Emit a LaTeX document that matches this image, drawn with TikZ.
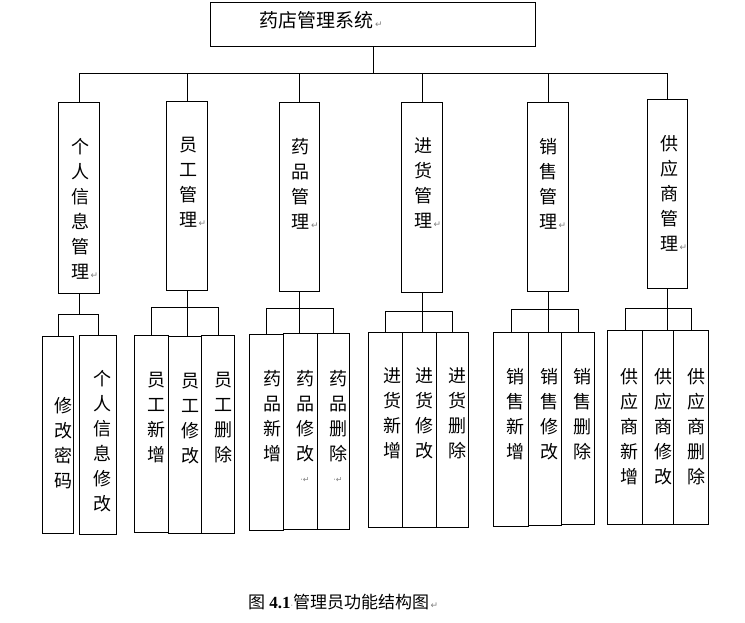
\documentclass[tikz,border=0pt]{standalone}
\usepackage{fontspec}
\setmainfont{Liberation Serif}
\newfontfamily\cjk{Noto Sans CJK SC}
\newfontfamily\dejavu{DejaVu Sans}
\newcommand\retm{\rlap{\textcolor{gray}{\dejavu\fontsize{9}{9}\selectfont\,↵}}}
\newcommand\mybox[5]{\node[boxst, minimum width={(#4-#2)*1pt}, minimum height={(#5-#3)*1pt}, anchor=north west] (#1) at (#2,#3) {};}
\begin{document}
\begin{tikzpicture}[x=1pt,y=-1pt,
  boxst/.style={draw, line width=1pt, inner sep=0pt, rectangle},
  vt/.style={font=\cjk\fontsize{18}{25}\selectfont, align=center, inner sep=0pt, anchor=north},
  conn/.style={line width=1pt},
  pmark/.style={font=\dejavu\fontsize{8}{8}\selectfont, text=gray, inner sep=0pt}]
\useasboundingbox (0,0) rectangle (745,622);
% root
\mybox{root}{210}{2}{535}{46}
\node[font=\cjk\fontsize{19}{22}\selectfont, inner sep=0pt] (rt) at (316.5,20.5) {药店管理系统\retm};
% level 1
\mybox{p1}{58}{102}{99}{293}
\mybox{p2}{166}{101}{207}{290}
\mybox{p3}{279}{102}{319}{291}
\mybox{p4}{401}{102}{442}{292}
\mybox{p5}{527}{102}{568}{291}
\mybox{p6}{647}{99}{687}{288}
\node[vt] (t1) at (80,138) {个\\人\\信\\息\\管\\理\retm};
\node[vt] (t2) at (188,137) {员\\工\\管\\理\retm};
\node[vt] (t3) at (300.5,138) {药\\品\\管\\理\retm};
\node[vt] (t4) at (423,138) {进\\货\\管\\理\retm};
\node[vt] (t5) at (548,138) {销\\售\\管\\理\retm};
\node[vt] (t6) at (669,135) {供\\应\\商\\管\\理\retm};
% leaves
\mybox{l11}{42}{336}{73}{533}
\mybox{l12}{79}{335}{116}{534}
\mybox{l21}{134}{335}{168}{532}
\mybox{l22}{168}{336}{201}{533}
\mybox{l23}{201}{335}{234}{533}
\mybox{l31}{249}{334}{283}{530}
\mybox{l32}{283}{333}{317}{529}
\mybox{l33}{317}{333}{349}{529}
\mybox{l41}{368}{332}{402}{527}
\mybox{l42}{402}{332}{436}{527}
\mybox{l43}{436}{332}{468}{527}
\mybox{l51}{493}{332}{528}{526}
\mybox{l52}{528}{332}{561}{525}
\mybox{l53}{561}{332}{594}{524}
\mybox{l61}{607}{330}{642}{524}
\mybox{l62}{642}{330}{673}{524}
\mybox{l63}{673}{330}{708}{524}
\node[vt] (s11) at (63,397) {修\\改\\密\\码};
\node[vt] (s12) at (102,370) {个\\人\\信\\息\\修\\改};
\node[vt] (s21) at (156,372) {员\\工\\新\\增};
\node[vt] (s22) at (190,373) {员\\工\\修\\改};
\node[vt] (s23) at (223,372) {员\\工\\删\\除};
\node[vt] (s31) at (272,370) {药\\品\\新\\增};
\node[vt] (s32) at (305,370) {药\\品\\修\\改};
\node[vt] (s33) at (338,370) {药\\品\\删\\除};
\node[pmark] (m32) at (305,480) {·↵};
\node[pmark] (m33) at (338,480) {·↵};
\node[vt] (s41) at (392,368) {进\\货\\新\\增};
\node[vt] (s42) at (424,368) {进\\货\\修\\改};
\node[vt] (s43) at (457,368) {进\\货\\删\\除};
\node[vt] (s51) at (515,368) {销\\售\\新\\增};
\node[vt] (s52) at (549,368) {销\\售\\修\\改};
\node[vt] (s53) at (582,368) {销\\售\\删\\除};
\node[vt] (s61) at (629,368) {供\\应\\商\\新\\增};
\node[vt] (s62) at (663,368) {供\\应\\商\\修\\改};
\node[vt] (s63) at (696,368) {供\\应\\商\\删\\除};
% connectors level 1
\coordinate (bus) at (0,73);
\draw[conn] (root.south) -- (root.south |- bus);
\draw[conn] (p1.north |- bus) -- (p6.north |- bus);
\foreach \p in {p1,p2,p3,p4,p5,p6} \draw[conn] (\p.north |- bus) -- (\p.north);
% group 1
\coordinate (b1) at (0,314);
\draw[conn] (p1.south) -- (p1.south |- b1);
\draw[conn] (l11.north) -- (l11.north |- b1) -- (l12.north |- b1) -- (l12.north);
% groups with three children
\foreach \g/\y in {2/307,3/308,4/311,5/309,6/308}{
  \coordinate (b\g) at (0,\y);
  \draw[conn] (p\g.south) -- (p\g.south |- l\g2.north);
  \draw[conn] (l\g1.north) -- (l\g1.north |- b\g) -- (l\g3.north |- b\g) -- (l\g3.north);
}
% caption
\node[anchor=west, inner sep=0pt, font=\fontsize{17}{20}\selectfont] (cap) at (248,602)
  {{\cjk 图} {\bfseries 4.1}{\textcolor{gray}{\dejavu\fontsize{8}{8}\selectfont ·}}{\cjk 管理员功能结构图}\retm};
\end{tikzpicture}
\end{document}
